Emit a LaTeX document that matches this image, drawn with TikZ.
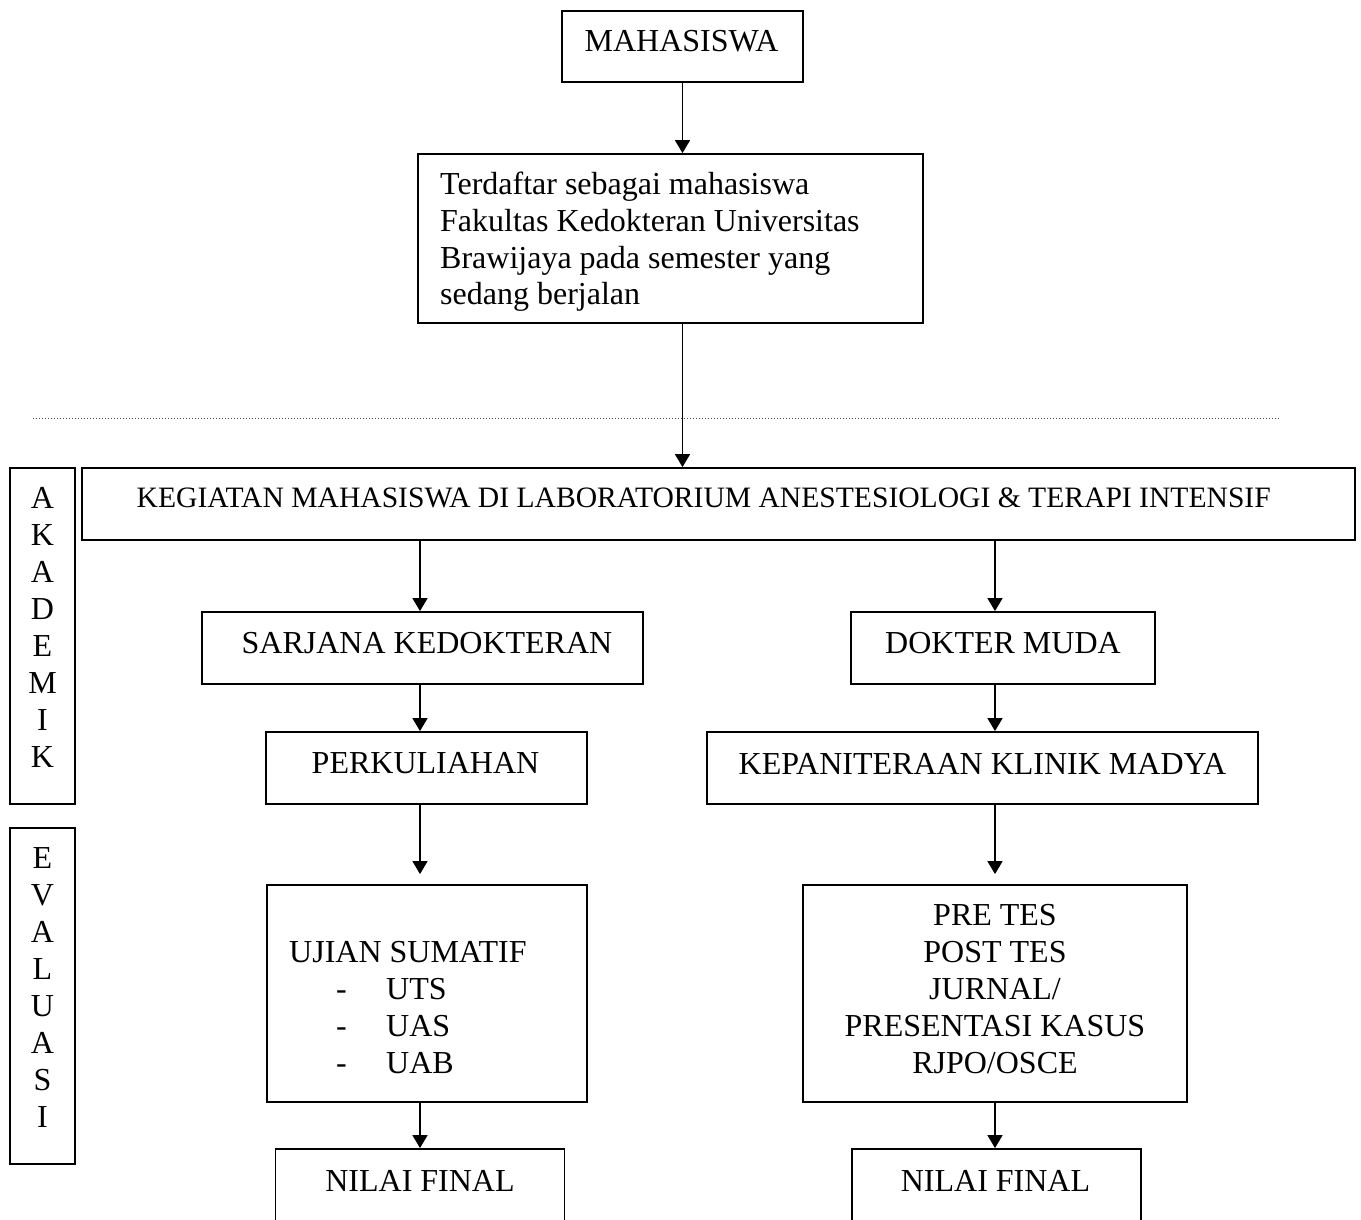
\documentclass[tikz,border=0pt]{standalone}
\usepackage{fontspec}
\setmainfont{Liberation Serif}
\usetikzlibrary{arrows.meta,calc}
\tikzset{
  boxnode/.style={draw=black, line width=1.8pt, inner sep=0pt, rectangle},
  txt/.style={inner sep=0pt, font=\fontsize{32}{37}\selectfont, anchor=base},
  txtw/.style={inner sep=0pt, font=\fontsize{32}{37}\selectfont, anchor=base west},
  conn/.style={line width=1.5pt, -{Triangle[width=15pt,length=13pt]}},
  sepline/.style={line width=0.8pt, dash pattern=on 1pt off 2pt, black!70}
}
\begin{document}
\begin{tikzpicture}[x=1pt,y=-1pt]
\useasboundingbox (0,0) rectangle (1361,1220);
\fill[white] (0,0) rectangle (1361,1220);
\clip (0,0) rectangle (1361,1220);

% boxes
\node[boxnode, minimum width=241pt, minimum height=71pt] (mhs) at (682.5,46.5) {};
\node[boxnode, minimum width=505pt, minimum height=169pt] (daftar) at (670.5,238.5) {};
\node[boxnode, minimum width=1273pt, minimum height=72pt] (keg) at (718.5,504) {};
\node[boxnode, minimum width=65pt, minimum height=336pt] (akad) at (42.5,636) {};
\node[boxnode, minimum width=65pt, minimum height=336pt] (eval) at (42.5,996) {};
\node[boxnode, minimum width=441pt, minimum height=72pt] (sarj) at (422.5,648) {};
\node[boxnode, minimum width=321pt, minimum height=72pt] (kul) at (426.5,768) {};
\node[boxnode, minimum width=320pt, minimum height=217pt] (ujian) at (427,993.5) {};
\node[boxnode, minimum width=289pt, minimum height=100pt] (nilaiL) at (420,1199) {};
\node[boxnode, minimum width=304pt, minimum height=72pt] (dok) at (1003,648) {};
\node[boxnode, minimum width=551pt, minimum height=72pt] (kepan) at (982.5,768) {};
\node[boxnode, minimum width=384pt, minimum height=217pt] (pre) at (995,993.5) {};
\node[boxnode, minimum width=289pt, minimum height=100pt] (nilaiR) at (996.5,1199) {};

% texts
\node[txt] (tmhs) at (681.5,52) {MAHASISWA};
\node[txtw] (tdaftar) at (440,194) {\begin{tabular}[t]{@{}l@{}}Terdaftar sebagai mahasiswa\\Fakultas Kedokteran Universitas\\Brawijaya pada semester yang\\sedang berjalan\end{tabular}};
\node[txtw, font=\fontsize{29.6}{37}\selectfont] (tkeg) at (136.5,507) {KEGIATAN MAHASISWA DI LABORATORIUM ANESTESIOLOGI \& TERAPI INTENSIF};
\node[txt] (takad) at (42.5,508) {\begin{tabular}[t]{@{}c@{}}A\\K\\A\\D\\E\\M\\I\\K\end{tabular}};
\node[txt] (teval) at (42.5,868) {\begin{tabular}[t]{@{}c@{}}E\\V\\A\\L\\U\\A\\S\\I\end{tabular}};
\node[txt] (tsarj) at (427,653) {SARJANA KEDOKTERAN};
\node[txt] (tkul) at (425.5,773) {PERKULIAHAN};
\node[txt] (tdok) at (1003,653) {DOKTER MUDA};
\node[txt] (tkepan) at (982.5,774) {KEPANITERAAN KLINIK MADYA};
\node[txtw] (tujian) at (289,962) {\begin{tabular}[t]{@{}l@{}}UJIAN SUMATIF\\\makebox[97pt][l]{\hspace*{47pt}-}UTS\\\makebox[97pt][l]{\hspace*{47pt}-}UAS\\\makebox[97pt][l]{\hspace*{47pt}-}UAB\end{tabular}};
\node[txt] (tpre) at (995,925) {\begin{tabular}[t]{@{}c@{}}PRE TES\\POST TES\\JURNAL/\\PRESENTASI KASUS\\RJPO/OSCE\end{tabular}};
\node[txt] (tnilaiL) at (420,1191) {NILAI FINAL};
\node[txt] (tnilaiR) at (995.5,1191) {NILAI FINAL};

% separator
\coordinate (sepA) at (33,418);
\coordinate (sepB) at (1280,418);
\draw[sepline] (sepA) -- (sepB);

% connectors
\draw[conn] (mhs.south) -- (daftar.north -| mhs.south);
\draw[conn] (daftar.south -| mhs.south) -- (keg.north -| mhs.south);
\draw[conn] (keg.south -| nilaiL.north) -- (sarj.north -| nilaiL.north);
\draw[conn] (sarj.south -| nilaiL.north) -- (kul.north -| nilaiL.north);
\draw[conn, shorten >=10pt] (kul.south -| nilaiL.north) -- (ujian.north -| nilaiL.north);
\draw[conn] (ujian.south -| nilaiL.north) -- (nilaiL.north);
\draw[conn] (keg.south -| pre.north) -- (dok.north -| pre.north);
\draw[conn] (dok.south -| pre.north) -- (kepan.north -| pre.north);
\draw[conn, shorten >=10pt] (kepan.south -| pre.north) -- (pre.north);
\draw[conn] (pre.south) -- (nilaiR.north -| pre.south);
\end{tikzpicture}
\end{document}
